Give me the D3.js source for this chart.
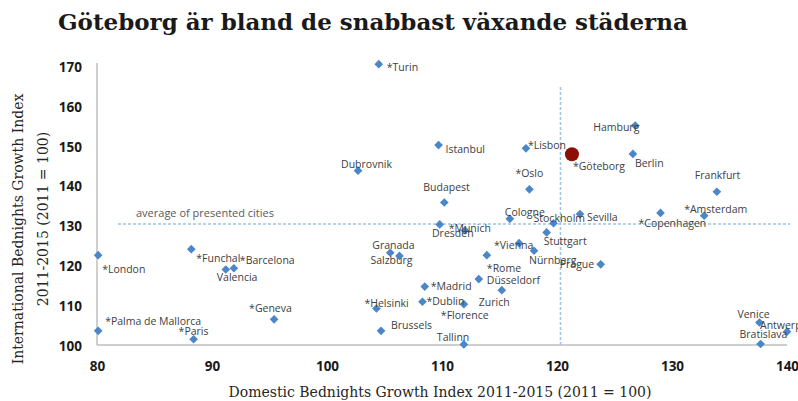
<!DOCTYPE html>
<html><head><meta charset="utf-8">
<script src="https://cdn.jsdelivr.net/npm/d3@7"></script>
<style>body{margin:0;background:#fff}svg{display:block}</style>
</head><body>
<svg id="chart" width="798" height="401"></svg>
<script>
// ---- data ----
const cities = ["Turin","Istanbul","Lisbon","Dubrovnik","Oslo","Budapest","Cologne","Stockholm","Munich","Dresden","Stuttgart","Sevilla","Vienna","Nürnberg","Rome","Granada","Salzburg","Düsseldorf","Zurich","Madrid","Dublin","Florence","Helsinki","Brussels","Tallinn","London","Palma de Mallorca","Funchal","Valencia","Barcelona","Geneva","Paris","Hamburg","Berlin","Frankfurt","Copenhagen","Amsterdam","Prague","Venice","Antwerp","Bratislava"];
const labels = ["*Turin","Istanbul","*Lisbon","Dubrovnik","*Oslo","Budapest","Cologne","Stockholm","*Munich","Dresden","Stuttgart","Sevilla","*Vienna","Nürnberg","*Rome","Granada","Salzburg","Düsseldorf","Zurich","*Madrid","*Dublin","*Florence","*Helsinki","Brussels","Tallinn","*London","*Palma de Mallorca","*Funchal","Valencia","*Barcelona","*Geneva","*Paris","Hamburg","Berlin","Frankfurt","*Copenhagen","*Amsterdam","Prague","Venice","Antwerp","Bratislava"];
const domestic = [104.5,109.7,117.3,102.7,117.6,110.2,115.9,119.7,109.8,112.0,119.1,122.0,116.7,118.0,113.9,105.5,106.3,113.2,115.2,108.5,108.3,111.9,104.3,104.7,111.9,80.1,80.1,88.2,91.2,91.9,95.4,88.4,126.8,126.6,133.9,129.0,132.8,123.8,137.6,140.0,137.7];
const international = [170.7,150.4,149.6,144.0,139.3,136.0,131.9,130.8,130.5,129.0,128.5,133.1,125.8,123.9,122.8,123.4,122.6,116.8,114.0,114.9,111.1,110.5,109.4,103.8,100.4,122.8,103.8,124.3,119.2,119.5,106.7,101.7,155.3,148.2,138.7,133.4,132.7,120.5,105.9,103.6,100.5];
const highlightCity = "*Göteborg";
const highlightDomestic = 121.3;
const highlightInternational = 148.1;
const avgDomestic = 120.3;
const avgInternational = 130.6;
const xTicks = [80,90,100,110,120,130,140];
const yTicks = [100,110,120,130,140,150,160,170];
const titleText = "Göteborg är bland de snabbast växande städerna";
const xTitle = "Domestic Bednights Growth Index 2011-2015 (2011 = 100)";
const yTitle1 = "International Bednights Growth Index";
const yTitle2 = "2011-2015  (2011 = 100)";
const avgLabel = "average of presented cities";

// ---- label layout offsets (px) ----
const labelOffsets = [[8,7],[7,8],[2,1],[-17,-3],[-14,-12],[-21,-12],[-5,-3],[-20,-1],[9,8],[-33,7],[-3,13],[7,7],[-25,6],[-5,13],[0,17],[-18,-4],[-29,8],[8,5],[-23,16],[6,3],[4,3],[-23,15],[-12,-2],[10,-2],[-27,-3],[4,18],[7,-6],[5,13],[-9,12],[6,-4],[-25,-7],[-15,-4],[-42,5],[2,13],[-22,-13],[-22,14],[-20,-3],[-41,4],[-22,-4],[-27,-3],[-21,-6]];

const svg = d3.select("#chart");
const x = d3.scaleLinear().domain([80,140]).range([97,787]);
const y = d3.scaleLinear().domain([100,170]).range([346,67]);

// title
const t = svg.append("text").attr("x",58).attr("y",30)
  .attr("font-family","'DejaVu Serif', Georgia, serif").attr("font-weight","bold")
  .attr("font-size",22).attr("fill","#1a1a1a").text(titleText);
const tw = t.node().getComputedTextLength();
t.attr("font-size", 22*630/tw);

// axes
const gx = svg.append("g").attr("transform","translate(0,345)")
  .call(d3.axisBottom(x).tickValues(xTicks).tickSize(0).tickSizeOuter(0).tickPadding(16).tickFormat(d3.format("d")));
const gy = svg.append("g").attr("transform","translate(97,0)")
  .call(d3.axisLeft(y).tickValues(yTicks).tickSize(0).tickSizeOuter(0).tickPadding(15).tickFormat(d3.format("d")));
[gx,gy].forEach(g=>{
  g.select(".domain").attr("stroke","#bfbfbf").attr("stroke-width",1.5);
  g.selectAll("text").attr("font-family","'Open Sans', sans-serif").attr("font-weight","bold")
    .attr("font-size",13.5).attr("fill","#1a1a1a");
});
gy.select(".domain").attr("d","M0,63V345");
gx.select(".domain").attr("d","M97,0H787");

// average lines
svg.append("line").attr("x1",118).attr("x2",790).attr("y1",y(avgInternational)).attr("y2",y(avgInternational))
  .attr("stroke","#9dc3e6").attr("stroke-width",1.5).attr("stroke-dasharray","3,2");
svg.append("line").attr("x1",x(avgDomestic)).attr("x2",x(avgDomestic)).attr("y1",87).attr("y2",345)
  .attr("stroke","#9dc3e6").attr("stroke-width",1.5).attr("stroke-dasharray","3,2");
svg.append("text").attr("x",136).attr("y",y(avgInternational)-7)
  .attr("font-family","'Open Sans', sans-serif").attr("font-size",11).attr("fill","#595959").text(avgLabel);

// axis titles
svg.append("text").attr("x",440).attr("y",397).attr("text-anchor","middle")
  .attr("font-family","'DejaVu Serif', Georgia, serif").attr("font-size",14).attr("fill","#262626").text(xTitle);
const yt = svg.append("g").attr("transform","translate(0,229) rotate(-90)");
yt.append("text").attr("x",0).attr("y",23).attr("text-anchor","middle")
  .attr("font-family","'DejaVu Serif', Georgia, serif").attr("font-size",14).attr("fill","#262626").text(yTitle1);
yt.append("text").attr("x",10).attr("y",48).attr("text-anchor","middle")
  .attr("font-family","'DejaVu Serif', Georgia, serif").attr("font-size",14).attr("fill","#262626").text(yTitle2);

// points
const pts = cities.map((c,i)=>({c, l:labels[i], dx:domestic[i], iy:international[i], off:labelOffsets[i]}));
const diamond = d3.symbol().type(d3.symbolDiamond2).size(48);
svg.append("g").selectAll("path").data(pts).join("path")
  .attr("d",diamond).attr("transform",d=>`translate(${x(d.dx)},${y(d.iy)})`)
  .attr("fill","#4a86c8");
svg.append("g").selectAll("text").data(pts).join("text")
  .attr("x",d=>x(d.dx)+d.off[0]).attr("y",d=>y(d.iy)+d.off[1])
  .attr("font-family","'Open Sans', sans-serif").attr("font-size",10.5).attr("fill","#404040")
  .text(d=>d.l);

// highlight
svg.append("circle").attr("cx",x(highlightDomestic)).attr("cy",y(highlightInternational)).attr("r",7)
  .attr("fill","#8b0f05");
svg.append("text").attr("x",x(highlightDomestic)+1).attr("y",y(highlightInternational)+16)
  .attr("font-family","'Open Sans', sans-serif").attr("font-size",10.5).attr("fill","#404040").text(highlightCity);
</script>
</body></html>
